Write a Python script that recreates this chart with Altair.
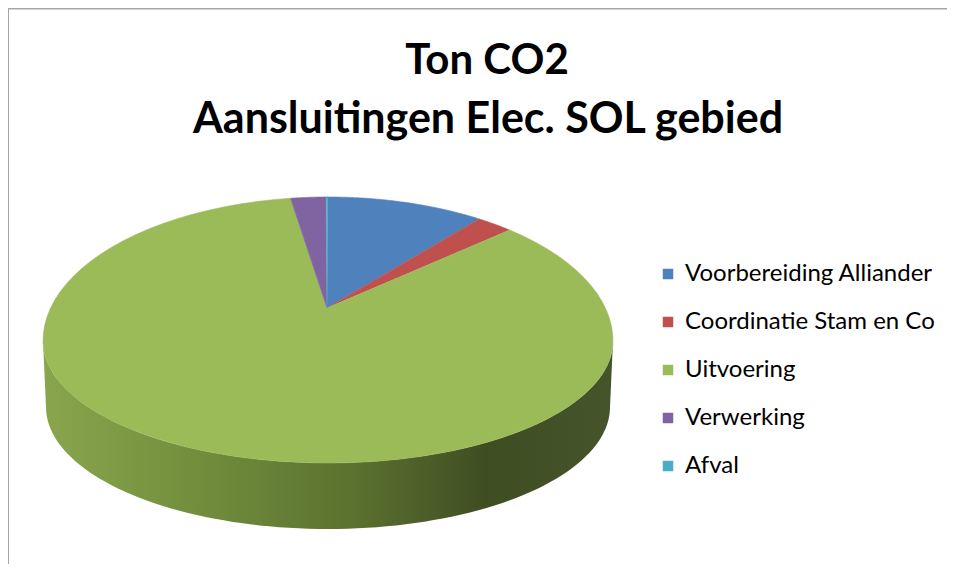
import altair as alt
import pandas as pd

# ---- data ----
categories = ["Voorbereiding Alliander", "Coordinatie Stam en Co", "Uitvoering", "Verwerking", "Afval"]
values = [89, 21, 869, 20, 1]
colors = ["#4f81bd", "#c0504d", "#9bbb59", "#8064a2", "#4bacc6"]
title_lines = ["Ton CO2", "Aansluitingen Elec. SOL gebied"]

df = pd.DataFrame({"cat": categories, "value": values, "idx": list(range(len(categories)))})

# ---- layout / style constants (reference pixel space) ----
W, H = 941, 556
CX, CY = 328, 341          # centre of top ellipse
RX, RYT, RYB = 285, 144, 122
AX, AY = 327, 308          # apex of slices (perspective centre)
CYB, RXB = 407, 282        # bottom ellipse of the side wall
N = 90

xs = alt.X("px:Q", scale=alt.Scale(domain=[8, 8 + W]), axis=None)
ys = alt.Y("py:Q", scale=alt.Scale(domain=[8, 8 + H], reverse=True), axis=None)
color_scale = alt.Scale(domain=categories, range=colors)

base = (
    alt.Chart(df)
    .transform_window(cum="sum(value)", sort=[alt.SortField("idx")], frame=[None, 0])
    .transform_joinaggregate(total="sum(value)")
    .transform_calculate(
        t0="2*PI*(datum.cum - datum.value)/datum.total",
        t1="2*PI*datum.cum/datum.total",
    )
)

side_gradient = alt.LinearGradient(
    gradient="linear", x1=0, x2=1, y1=0, y2=0,
    stops=[
        alt.GradientStop(offset=0.0, color="#89a64d"),
        alt.GradientStop(offset=0.3, color="#708b3b"),
        alt.GradientStop(offset=0.55, color="#5a712f"),
        alt.GradientStop(offset=0.78, color="#3f4d23"),
        alt.GradientStop(offset=1.0, color="#45542a"),
    ],
)

side = (
    base.transform_calculate(s0="max(datum.t0, PI/2)", s1="min(datum.t1, 3*PI/2)")
    .transform_filter("datum.s1 > datum.s0")
    .transform_calculate(k=f"sequence(0, {2 * N + 2})")
    .transform_flatten(["k"])
    .transform_calculate(j=f"datum.k <= {N} ? datum.k : {2 * N + 1} - datum.k")
    .transform_calculate(t=f"datum.s0 + (datum.s1 - datum.s0)*datum.j/{N}")
    .transform_calculate(
        px=f"datum.k <= {N} ? {CX} + {RX}*sin(datum.t) : {CX} + {RXB}*sin(datum.t)",
        py=f"datum.k <= {N} ? {CY} - {RYB}*cos(datum.t) : {CYB} - {RYB}*cos(datum.t)",
    )
    .mark_line(filled=True, fill=side_gradient, strokeWidth=0)
    .encode(x=xs, y=ys, order=alt.Order("k:Q"), detail="cat:N")
)

slices = (
    base.transform_calculate(k=f"sequence(0, {N + 2})")
    .transform_flatten(["k"])
    .transform_calculate(t=f"datum.t0 + (datum.t1 - datum.t0)*(datum.k - 1)/{N}")
    .transform_calculate(
        px=f"datum.k == 0 ? {AX} : {CX} + {RX}*sin(datum.t)",
        py=f"datum.k == 0 ? {AY} : {CY} - (cos(datum.t) > 0 ? {RYT} : {RYB})*cos(datum.t)",
    )
    .mark_line(filled=True, strokeWidth=0.6)
    .encode(
        x=xs,
        y=ys,
        order=alt.Order("k:Q"),
        detail="cat:N",
        fill=alt.Fill(
            "cat:N",
            scale=color_scale,
            sort=categories,
            legend=alt.Legend(
                title=None,
                orient="none",
                legendX=648,
                legendY=254,
                symbolType="square",
                symbolSize=110,
                symbolStrokeWidth=0,
                labelFont="Lato",
                labelFontSize=24,
                labelColor="#000000",
                labelOffset=5,
                labelLimit=0,
                rowPadding=24,
                padding=0,
            ),
        ),
        stroke=alt.Stroke("cat:N", scale=color_scale, legend=None),
    )
)

title1 = (
    alt.Chart(pd.DataFrame({"t": [title_lines[0]]}))
    .mark_text(font="Lato", fontWeight="bold", fontSize=42, color="#000000", align="center", baseline="alphabetic")
    .encode(text="t:N", x=alt.value(487 - 8), y=alt.value(74 - 8))
)
title2 = (
    alt.Chart(pd.DataFrame({"t": [title_lines[1]]}))
    .mark_text(font="Lato", fontWeight="bold", fontSize=43, color="#000000", align="center", baseline="alphabetic")
    .encode(text="t:N", x=alt.value(488 - 8), y=alt.value(133 - 8))
)

frame_top = (
    alt.Chart(pd.DataFrame({"a": [0]}))
    .mark_rule(color="#a6a6a6", strokeWidth=1.5)
    .encode(x=alt.value(0), x2=alt.value(W - 2), y=alt.value(0.75))
)
frame_left = (
    alt.Chart(pd.DataFrame({"a": [0]}))
    .mark_rule(color="#a6a6a6", strokeWidth=1.5)
    .encode(x=alt.value(0.25), y=alt.value(0), y2=alt.value(H))
)

chart = (
    alt.layer(side, slices, title1, title2, frame_top, frame_left)
    .properties(width=W, height=H, autosize=alt.AutoSizeParams(type="none"), padding=0, background="white")
    .configure_view(stroke=None)
)

chart.save("out.html", embed_options={"renderer": "svg", "actions": False})
